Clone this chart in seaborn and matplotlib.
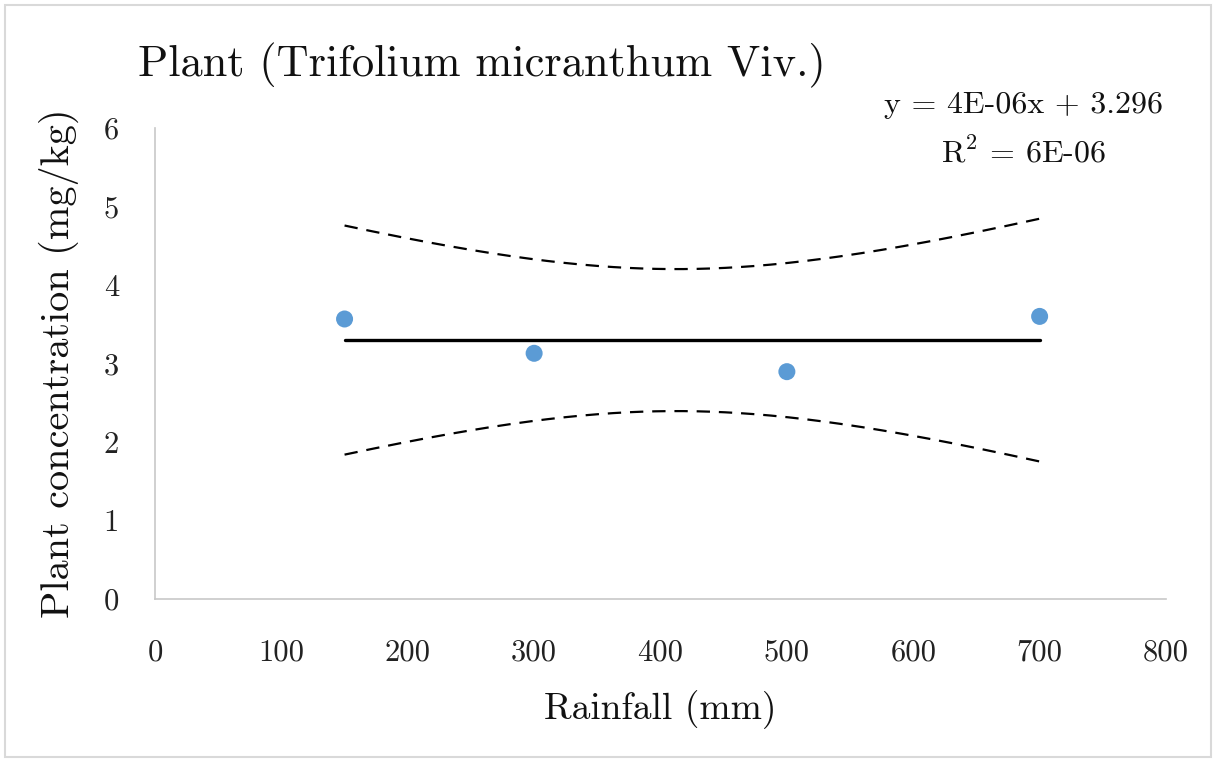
import numpy as np
import pandas as pd
import matplotlib
matplotlib.use("Agg")
import matplotlib.pyplot as plt
import seaborn as sns

# Data
rainfall = [150, 300, 500, 700]
concentration = [3.567, 3.13, 2.896, 3.60]
x_ticks = [0, 100, 200, 300, 400, 500, 600, 700, 800]
y_ticks = [0, 1, 2, 3, 4, 5, 6]
t_crit = 4.303  # Student t, 95%, df = 2

sns.set_theme(style="white")
plt.rcParams['font.family'] = ['cmr10', 'DejaVu Serif']
plt.rcParams['mathtext.fontset'] = 'cm'
plt.rcParams['axes.formatter.use_mathtext'] = True

fig = plt.figure(figsize=(12.16, 7.6), dpi=100)
ax = fig.add_axes([155/1216, 1 - 599/760, (1166-155)/1216, (599-128)/760])

# Linear fit and 95% confidence band of the mean, derived from the data
x = np.array(rainfall, dtype=float)
y = np.array(concentration, dtype=float)
slope, intercept = np.polyfit(x, y, 1)
n = len(x)
resid = y - (slope * x + intercept)
s = np.sqrt(np.sum(resid**2) / (n - 2))
sxx = np.sum((x - x.mean())**2)
xs = np.linspace(x.min(), x.max(), 200)
fit = slope * xs + intercept
half = t_crit * s * np.sqrt(1/n + (xs - x.mean())**2 / sxx)
band = pd.DataFrame({"x": xs, "fit": fit, "lo": fit - half, "hi": fit + half})

sns.lineplot(data=band, x="x", y="fit", ax=ax, color="black", linewidth=2.4)
sns.lineplot(data=band, x="x", y="hi", ax=ax, color="black", linewidth=1.6, linestyle=(0, (6, 4)))
sns.lineplot(data=band, x="x", y="lo", ax=ax, color="black", linewidth=1.6, linestyle=(0, (6, 4)))
sns.scatterplot(x=rainfall, y=concentration, ax=ax, color="#5B9BD5", s=150, edgecolor="none", zorder=5)

ax.set_xlim(0, 800)
ax.set_ylim(0, 6)
ax.set_xticks(x_ticks)
ax.set_yticks(y_ticks)
ax.set_xticklabels([str(v) for v in x_ticks])
ax.set_yticklabels([str(v) for v in y_ticks])
ax.tick_params(axis='both', length=0, labelsize=22, colors="#222222")
ax.tick_params(axis='y', pad=26)
ax.tick_params(axis='x', pad=29)
for side in ["top", "right"]:
    ax.spines[side].set_visible(False)
for side in ["left", "bottom"]:
    ax.spines[side].set_color("#C8C8C8")
    ax.spines[side].set_linewidth(1.2)

ax.set_xlabel("Rainfall (mm)", fontsize=27, labelpad=17, color="#111111")
ax.set_ylabel("Plant concentration (mg/kg)", fontsize=29, labelpad=18, color="#111111")

fig.text(138/1216, 1 - 65/760, "Plant (Trifolium micranthum Viv.)", fontsize=32,
         ha="left", va="center", color="#111111")
fig.text(1024/1216, 1 - 105/760, "y = 4E-06x + 3.296", fontsize=23, ha="center", va="center", color="#111111")
fig.text(1024/1216, 1 - 152/760, r"R$^2$ = 6E-06", fontsize=23, ha="center", va="center", color="#111111")

# outer chart border
fig.patches.append(plt.Rectangle((5/1216, 3/760), 1206/1216, 752/760, transform=fig.transFigure,
                                 fill=False, edgecolor="#D9D9D9", linewidth=1.5))

fig.savefig("out.png", dpi=100, facecolor="white")
